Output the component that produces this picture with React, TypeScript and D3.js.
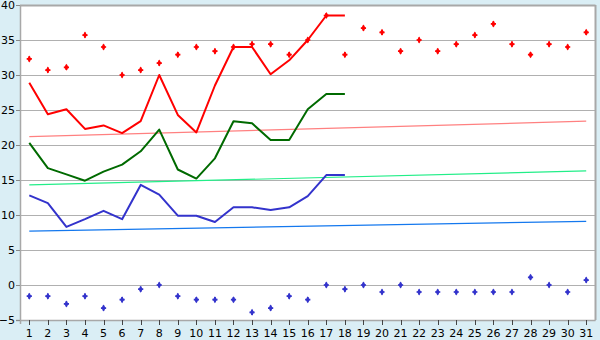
import React from "react";
import * as d3 from "d3";

const days = ["1","2","3","4","5","6","7","8","9","10","11","12","13","14","15","16","17","18","19","20","21","22","23","24","25","26","27","28","29","30","31"];
const yTicks = [-5, 0, 5, 10, 15, 20, 25, 30, 35, 40];

const maxLine = [28.9,24.4,25.1,22.3,22.8,21.7,23.4,30.0,24.3,21.8,28.5,34.0,34.0,30.1,32.1,35.0,38.5,38.5];
const midLine = [20.3,16.7,15.8,14.9,16.2,17.2,19.1,22.2,16.5,15.2,18.1,23.4,23.1,20.7,20.7,25.1,27.3,27.3];
const minLine = [12.8,11.7,8.3,9.4,10.6,9.4,14.3,12.9,9.9,9.9,9.0,11.1,11.1,10.7,11.1,12.7,15.7,15.7];

const maxPoints = [32.3,30.7,31.1,35.7,34.0,30.0,30.7,31.7,32.9,34.0,33.4,34.0,34.4,34.4,32.9,35.0,38.5,32.9,36.7,36.1,33.4,35.0,33.4,34.4,35.7,37.3,34.4,32.9,34.4,34.0,36.1];
const minPoints = [-1.6,-1.6,-2.7,-1.6,-3.3,-2.1,-0.6,0.0,-1.6,-2.1,-2.1,-2.1,-3.9,-3.3,-1.6,-2.1,0.0,-0.6,0.0,-1.0,0.0,-1.0,-1.0,-1.0,-1.0,-1.0,-1.0,1.1,0.0,-1.0,0.7];

const maxTrend = [21.2, 23.4];
const midTrend = [14.3, 16.3];
const minTrend = [7.7, 9.1];

export default function App() {
  const W = 600, H = 340;
  const left = 20, right = 595.5, top = 5, bottom = 320;
  const x = d3.scalePoint<string>().domain(days).range([left, right]).padding(0.5);
  const y = d3.scaleLinear().domain([-5, 40]).range([bottom, top]);
  const fmt = d3.format("");

  const line = d3.line<number>().x((_, i) => x(days[i]) as number).y((d) => y(d));
  const trendLine = (t: number[]) =>
    d3.line<number>().x((_, i) => x(days[i === 0 ? 0 : days.length - 1]) as number).y((d) => y(d))(t) as string;
  const cross = d3.symbol().type(d3.symbolCross).size(15)() as string;
  const diamond = d3.symbol().type(d3.symbolDiamond).size(14)() as string;

  const font = "DejaVu Sans, Verdana, sans-serif";

  const marker = (key: string, cx: number, cy: number, color: string) => (
    <g key={key} transform={`translate(${cx},${cy})`}>
      <path d={cross} fill={color} />
      <path d={diamond} fill={color} />
    </g>
  );

  return (
    <svg width={W} height={H} style={{ position: "absolute", left: 0, top: 0 }}>
      <rect x={0} y={0} width={W} height={H} fill="#daeef5" />
      <rect x={left} y={top} width={right - left} height={bottom - top} fill="#ffffff" />
      {yTicks.map((t) => (
        <line key={"g" + t} x1={left} x2={right} y1={Math.round(y(t)) + 0.5} y2={Math.round(y(t)) + 0.5} stroke="#b0b0b0" strokeWidth={1} />
      ))}
      <line x1={left} x2={right} y1={top + 0.5} y2={top + 0.5} stroke="#a8a8a8" strokeWidth={2} />
      <line x1={right} x2={right} y1={top} y2={bottom} stroke="#a8a8a8" strokeWidth={2} />
      <line x1={left + 0.5} x2={left + 0.5} y1={top} y2={bottom + 4} stroke="#a8a8a8" strokeWidth={1.5} />
      <line x1={left - 4} x2={right} y1={bottom + 0.5} y2={bottom + 0.5} stroke="#a8a8a8" strokeWidth={1.5} />
      {yTicks.map((t) => (
        <g key={"yt" + t}>
          <line x1={left - 4} x2={left} y1={Math.round(y(t)) + 0.5} y2={Math.round(y(t)) + 0.5} stroke="#888" />
          <text x={left - 5} y={y(t)} dy="0.35em" textAnchor="end" fontFamily={font} fontSize={11} fill="#000">
            {fmt(t)}
          </text>
        </g>
      ))}
      {days.map((d) => (
        <g key={"xt" + d}>
          <line x1={Math.round(x(d) as number) + 0.5} x2={Math.round(x(d) as number) + 0.5} y1={bottom} y2={bottom + 5} stroke="#444" />
          <text x={x(d) as number} y={bottom + 17} textAnchor="middle" fontFamily={font} fontSize={11} fill="#000">
            {d}
          </text>
        </g>
      ))}
      <path d={trendLine(maxTrend)} fill="none" stroke="#ff8080" strokeWidth={1.2} />
      <path d={trendLine(midTrend)} fill="none" stroke="#22ee88" strokeWidth={1.2} />
      <path d={trendLine(minTrend)} fill="none" stroke="#1478ee" strokeWidth={1.2} />
      <path d={line(maxLine) as string} fill="none" stroke="#ff0000" strokeWidth={2} strokeLinejoin="round" />
      <path d={line(midLine) as string} fill="none" stroke="#006a00" strokeWidth={2} strokeLinejoin="round" />
      <path d={line(minLine) as string} fill="none" stroke="#3333cc" strokeWidth={2} strokeLinejoin="round" />
      {maxPoints.map((v, i) => marker("mp" + i, x(days[i]) as number, y(v), "#ff0000"))}
      {minPoints.map((v, i) => marker("np" + i, x(days[i]) as number, y(v), "#3333cc"))}
    </svg>
  );
}
